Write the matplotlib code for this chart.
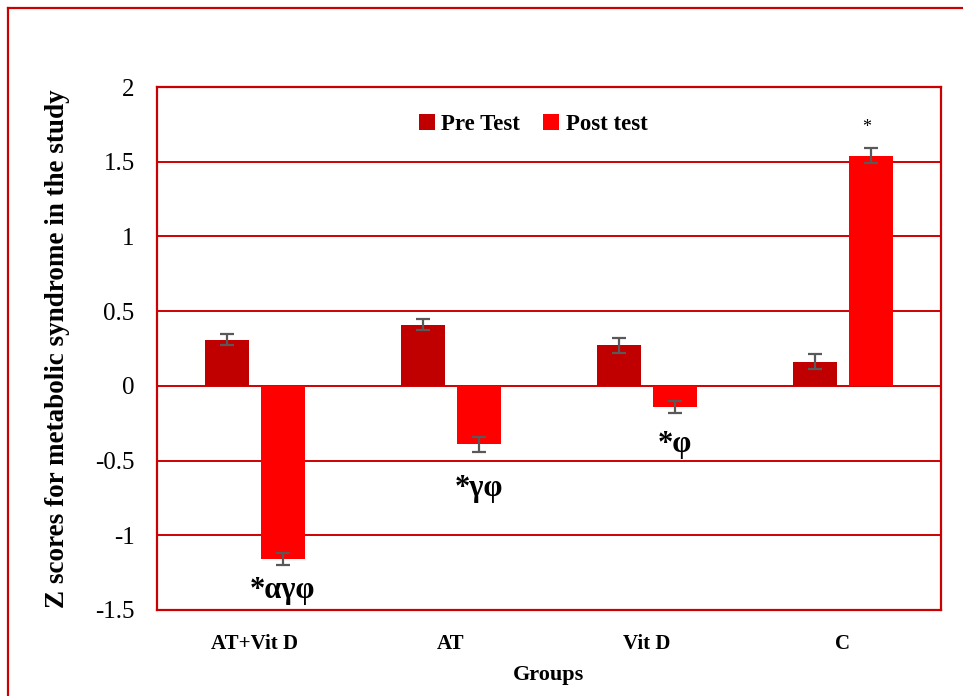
import numpy as np
import matplotlib.pyplot as plt
from matplotlib.lines import Line2D

plt.rcParams['font.family'] = ['Liberation Serif', 'DejaVu Serif']

groups = ['AT+Vit D', 'AT', 'Vit D', 'C']
pre_test = [0.31, 0.41, 0.27, 0.16]
post_test = [-1.16, -0.39, -0.14, 1.54]
pre_err = [0.04, 0.035, 0.05, 0.05]
post_err = [0.04, 0.05, 0.04, 0.05]
marks = ['*\u03b1\u03b3\u03c6', '*\u03b3\u03c6', '*\u03c6', '*']

red_dark = '#C00000'
red = '#FF0000'
line_red = '#CC0000'

fig = plt.figure(figsize=(9.63, 6.96), dpi=100)
ax = fig.add_axes([0.163, 0.1236, 0.814, 0.7514])

x = np.arange(len(groups))
w = 0.225
off = 0.285 / 2
ekw = dict(ecolor='#595959', elinewidth=1.6, capthick=1.6)
ax.bar(x - off, pre_test, w, color=red_dark, yerr=pre_err, capsize=5,
       error_kw=ekw, label='Pre Test', zorder=3)
ax.bar(x + off, post_test, w, color=red, yerr=post_err, capsize=5,
       error_kw=ekw, label='Post test', zorder=3)

ax.set_xlim(-0.5, 3.5)
ax.set_ylim(-1.5, 2)
ax.set_yticks([-1.5, -1, -0.5, 0, 0.5, 1, 1.5, 2])
ax.set_yticklabels(['-1.5', '-1', '-0.5', '0', '0.5', '1', '1.5', '2'])
ax.set_xticks(x)
ax.set_xticklabels(groups, fontweight='bold', fontsize=15)
ax.tick_params(axis='y', length=0, labelsize=18, pad=16)
ax.tick_params(axis='x', length=0, pad=17)

ax.yaxis.grid(True, color=line_red, linewidth=1.4)
ax.set_axisbelow(True)
for s in ax.spines.values():
    s.set_color(line_red)
    s.set_linewidth(1.6)

ax.set_ylabel('Z scores for metabolic syndrome in the study', fontweight='bold',
              fontsize=19.5, labelpad=18)
ax.set_xlabel('Groups', fontweight='bold', fontsize=16, labelpad=8)

# significance marks
mark_pos = [(0 + off, -1.37), (1 + off, -0.69), (2 + off, -0.39), (3 + off, 1.73)]
for m, (mx, my) in zip(marks, mark_pos):
    if m == '*':
        ax.text(mx - 0.02, my, m, ha='center', va='center', fontsize=13)
    else:
        ax.text(mx, my, m, ha='center', va='center', fontsize=22, fontweight='bold')

ax.legend(loc='center', bbox_to_anchor=(0.48, 0.929), ncol=2, frameon=False,
          handlelength=0.7, handleheight=0.7, handletextpad=0.3,
          columnspacing=1.0, prop={'weight': 'bold', 'size': 16.5})

# outer border (cut off on right and bottom)
fig.add_artist(Line2D([0.0083, 0.0083], [-0.1, 0.9885], color=line_red, linewidth=1.6))
fig.add_artist(Line2D([0.0083, 1.1], [0.9885, 0.9885], color=line_red, linewidth=1.6))

fig.savefig('out.png', dpi=100)
